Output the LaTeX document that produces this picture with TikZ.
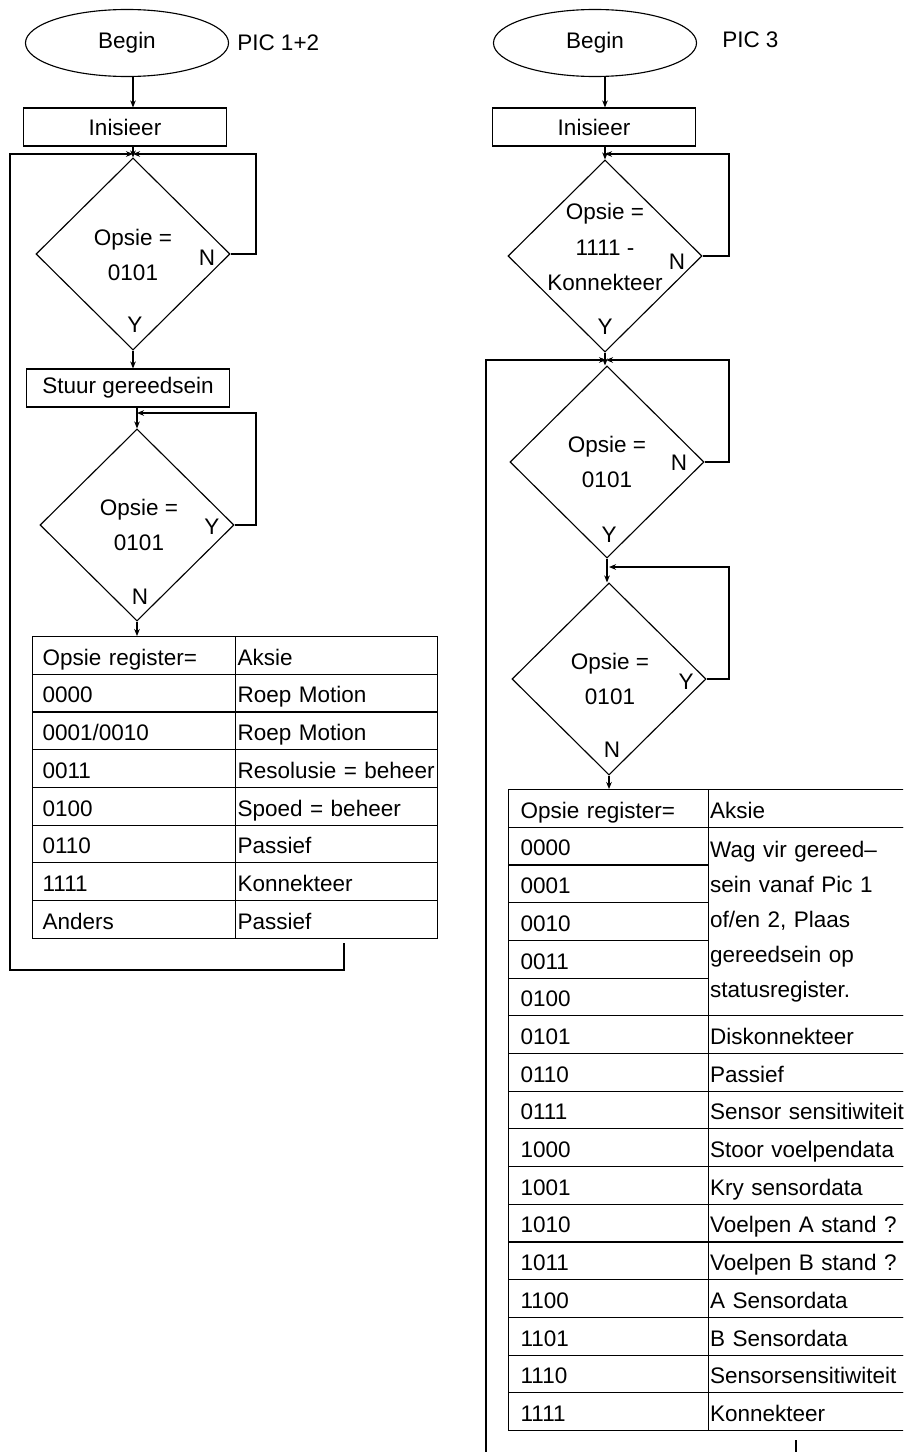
\documentclass[tikz,border=0pt]{standalone}
\usepackage{fontspec}
\setmainfont{Liberation Sans}
\usetikzlibrary{shapes.geometric,arrows.meta}

\begin{document}
\begin{tikzpicture}[x=0.025cm, y=-0.025cm, line width=0.8pt,
  font=\fontsize{16}{25}\selectfont,
  arr/.style={-{Stealth[length=5pt,width=4pt]}},
  oval/.style={draw, ellipse, minimum width=5.075cm, minimum height=1.675cm, inner sep=0},
  box/.style={draw, rectangle, minimum width=5.075cm, minimum height=0.95cm, inner sep=0},
  ruit/.style={draw, diamond, minimum width=4.85cm, minimum height=4.8cm, inner sep=0},
  dtxt/.style={align=center, inner sep=0},
  yn/.style={inner sep=0},
  cell/.style={draw, anchor=north west, minimum height=0.9425cm, inner ysep=0, align=left,
    text height=14pt, text depth=0pt},
  t1a/.style={cell, inner xsep=0.25cm, text width=4.575cm},
  t1b/.style={cell, inner xsep=0.05cm, text width=4.95cm},
  t2a/.style={cell, inner xsep=0.3cm, text width=4.4cm},
  t2b/.style={cell, inner xsep=0.04cm, text width=5.1cm}]
\useasboundingbox (0,0) rectangle (903,1452);
\clip (0,0) rectangle (903,1452);

% PIC 1+2
\node[oval] (b1) at (127,43) {Begin};
\node[anchor=west] (pic1) at (232,43) {PIC 1+2};
\node[box] (ini1) at (125,127) {Inisieer};
\node[ruit] (d1) at (133,254) {};
\node[dtxt] (d1t) at (133,255) {Opsie =\\0101};
\node[yn] (d1n) at (207,258) {N};
\node[yn] (d1y) at (135,325) {Y};
\node[box] (st1) at (128,388) {Stuur gereedsein};
\node[ruit] (d2) at (137,525) {};
\node[dtxt] (d2t) at (139,525) {Opsie =\\0101};
\node[yn] (d2y) at (212,527) {Y};
\node[yn] (d2n) at (140,597) {N};

% tabel PIC 1+2
\node[t1a] (t1h) at (32,636) {Opsie register=};
\node[t1b] (t1ha) at (235,636) {Aksie};
\node[t1a] (t1r1) at (32,673.7) {0000};
\node[t1b] (t1a1) at (235,673.7) {Roep Motion};
\node[t1a] (t1r2) at (32,711.4) {0001/0010};
\node[t1b] (t1a2) at (235,711.4) {Roep Motion};
\node[t1a] (t1r3) at (32,749.1) {0011};
\node[t1b] (t1a3) at (235,749.1) {\mbox{Resolusie = beheer}};
\node[t1a] (t1r4) at (32,786.8) {0100};
\node[t1b] (t1a4) at (235,786.8) {Spoed = beheer};
\node[t1a] (t1r5) at (32,824.5) {0110};
\node[t1b] (t1a5) at (235,824.5) {Passief};
\node[t1a] (t1r6) at (32,862.2) {1111};
\node[t1b] (t1a6) at (235,862.2) {Konnekteer};
\node[t1a] (t1r7) at (32,899.9) {Anders};
\node[t1b] (t1a7) at (235,899.9) {Passief};

% lyne PIC 1+2
\coordinate (j1) at (133,154);
\coordinate (rl1) at (256,154);
\coordinate (j2) at (137,413);
\coordinate (rl2) at (256,413);
\coordinate (lp1) at (344,943);
\coordinate (lb1) at (10,970);
\draw[arr] (b1.south -| d1.north) -- (ini1.north -| d1.north);
\draw[arr] (ini1.south -| d1.north) -- (d1.north);
\draw[arr] (d1.east) -| (rl1) -- (j1);
\draw[arr] (lp1) |- (lb1) |- (j1);
\draw[arr] (d1.south) -- (d1.south |- st1.north);
\draw[arr] (st1.south -| d2.north) -- (d2.north);
\draw[arr] (d2.east) -| (rl2) -- (j2);
\draw[arr] (d2.south) -- (d2.south |- t1h.north);

% PIC 3
\node[oval] (b2) at (595,43) {Begin};
\node[anchor=west] (pic3) at (717,40) {PIC 3};
\node[box] (ini2) at (594,127) {Inisieer};
\node[ruit] (d3) at (605,256) {};
\node[dtxt] (d3t) at (605,247) {Opsie =\\1111 -\\Konnekteer};
\node[yn] (d3n) at (677,262) {N};
\node[yn] (d3y) at (605,327) {Y};
\node[ruit] (d4) at (607,462) {};
\node[dtxt] (d4t) at (607,462) {Opsie =\\0101};
\node[yn] (d4n) at (679,463) {N};
\node[yn] (d4y) at (609,535) {Y};
\node[ruit] (d5) at (609,679) {};
\node[dtxt] (d5t) at (610,679) {Opsie =\\0101};
\node[yn] (d5y) at (686,682) {Y};
\node[yn] (d5n) at (612,750) {N};

% tabel PIC 3
\node[t2a] (t2h) at (508,789) {Opsie register=};
\node[t2b] (t2ha) at (708,789) {Aksie};
\node[t2a] (t2r1) at (508,826.7) {0000};
\node[t2a] (t2r2) at (508,864.4) {0001};
\node[t2a] (t2r3) at (508,902.1) {0010};
\node[t2a] (t2r4) at (508,939.8) {0011};
\node[t2a] (t2r5) at (508,977.5) {0100};
\node[t2b, text height=, text depth=, minimum height=4.7125cm] (t2m) at (708,826.7)
  {Wag vir gereed–\\sein vanaf Pic 1\\of/en 2, Plaas\\gereedsein op\\statusregister.};
\node[t2a] (t2r6) at (508,1015.2) {0101};
\node[t2b] (t2a6) at (708,1015.2) {Diskonnekteer};
\node[t2a] (t2r7) at (508,1052.9) {0110};
\node[t2b] (t2a7) at (708,1052.9) {Passief};
\node[t2a] (t2r8) at (508,1090.6) {0111};
\node[t2b] (t2a8) at (708,1090.6) {\mbox{Sensor sensitiwiteit}};
\node[t2a] (t2r9) at (508,1128.3) {1000};
\node[t2b] (t2a9) at (708,1128.3) {Stoor voelpendata};
\node[t2a] (t2r10) at (508,1166) {1001};
\node[t2b] (t2a10) at (708,1166) {Kry sensordata};
\node[t2a] (t2r11) at (508,1203.7) {1010};
\node[t2b] (t2a11) at (708,1203.7) {Voelpen A stand ?};
\node[t2a] (t2r12) at (508,1241.4) {1011};
\node[t2b] (t2a12) at (708,1241.4) {Voelpen B stand ?};
\node[t2a] (t2r13) at (508,1279.1) {1100};
\node[t2b] (t2a13) at (708,1279.1) {A Sensordata};
\node[t2a] (t2r14) at (508,1316.8) {1101};
\node[t2b] (t2a14) at (708,1316.8) {B Sensordata};
\node[t2a] (t2r15) at (508,1354.5) {1110};
\node[t2b] (t2a15) at (708,1354.5) {Sensorsensitiwiteit};
\node[t2a] (t2r16) at (508,1392.2) {1111};
\node[t2b] (t2a16) at (708,1392.2) {Konnekteer};

% lyne PIC 3
\coordinate (k3) at (605,154);
\coordinate (rl3) at (729,154);
\coordinate (j3) at (606,360);
\coordinate (rl4) at (729,360);
\coordinate (j5) at (609,567);
\coordinate (rl5) at (729,567);
\coordinate (lp2) at (796,1440);
\coordinate (lb2) at (486,1475);
\draw[arr] (b2.south -| d3.north) -- (ini2.north -| d3.north);
\draw[arr] (ini2.south -| d3.north) -- (d3.north);
\draw[arr] (d3.east) -| (rl3) -- (k3);
\draw[arr] (d3.south) -- (d3.south |- d4.north);
\draw[arr] (d4.east) -| (rl4) -- (j3);
\draw[arr] (lp2) |- (lb2) |- (j3);
\draw[arr] (d4.south) -- (d4.south |- d5.north);
\draw[arr] (d5.east) -| (rl5) -- (j5);
\draw[arr] (d5.south) -- (d5.south |- t2h.north);
\end{tikzpicture}
\end{document}
